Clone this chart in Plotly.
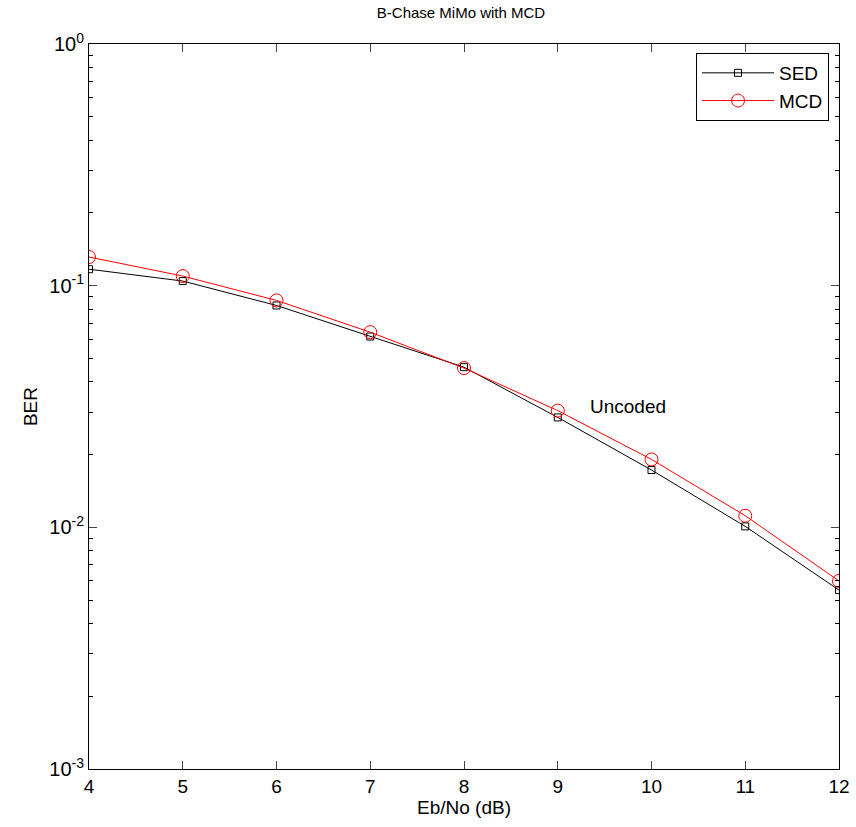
import plotly.graph_objects as go

ebno = [4, 5, 6, 7, 8, 9, 10, 11, 12]
ber_sed = [0.117, 0.1045, 0.0828, 0.0616, 0.046, 0.0285, 0.01726, 0.01009, 0.0055]
ber_mcd = [0.1314, 0.1096, 0.0869, 0.0642, 0.0456, 0.0304, 0.0191, 0.01117, 0.0060]
y_tickvals = [1, 0.1, 0.01, 0.001]
y_ticktext = ["10<sup>0</sup>", "10<sup>-1</sup>", "10<sup>-2</sup>", "10<sup>-3</sup>"]
x_ticks = [4, 5, 6, 7, 8, 9, 10, 11, 12]

font_family = "Liberation Sans, Arial, sans-serif"

fig = go.Figure()
fig.add_trace(go.Scatter(
    x=ebno, y=ber_sed, name="SED", mode="lines+markers",
    line=dict(color="black", width=1),
    marker=dict(symbol="square-open", size=7, color="black", line=dict(width=1)),
))
fig.add_trace(go.Scatter(
    x=ebno, y=ber_mcd, name="MCD", mode="lines+markers",
    line=dict(color="red", width=1),
    marker=dict(symbol="circle-open", size=13, color="red", line=dict(width=1)),
))

fig.add_annotation(x=9.32, y=-1.502, xref="x", yref="y", text="Uncoded",
                   showarrow=False, xanchor="left", yanchor="middle",
                   font=dict(size=19, color="black", family=font_family))

fig.update_layout(
    width=856, height=827,
    margin=dict(l=89, r=17, t=44, b=58, autoexpand=False),
    paper_bgcolor="white", plot_bgcolor="white",
    font=dict(family=font_family, size=19, color="black"),
    title=dict(text="B-Chase MiMo with MCD", x=0.5386, xanchor="center",
               y=0.984, yanchor="middle", font=dict(size=15)),
    showlegend=True,
    legend=dict(x=0.9867, y=0.9876, xanchor="right", yanchor="top",
                bgcolor="white", bordercolor="black", borderwidth=1,
                font=dict(size=19), itemwidth=72),
    xaxis=dict(
        range=[4, 12], tickvals=x_ticks, ticks="inside", ticklen=8,
        showline=True, linecolor="black", linewidth=1, mirror="ticks",
        showgrid=False, zeroline=False, automargin=False,
        title=dict(text="Eb/No (dB)", font=dict(size=19), standoff=1),
        tickfont=dict(size=19),
    ),
    yaxis=dict(
        type="log", range=[-3, 0], tickvals=y_tickvals, ticktext=y_ticktext,
        ticks="inside", ticklen=8,
        showline=True, linecolor="black", linewidth=1, mirror="ticks",
        showgrid=False, zeroline=False, automargin=False,
        minor=dict(ticks="inside", ticklen=4, tickcolor="black", dtick="D1",
                   showgrid=False),
        title=dict(text="BER", font=dict(size=19), standoff=6),
        tickfont=dict(size=20),
    ),
)

fig.write_html(
    "out.html",
    config={"displayModeBar": False},
    post_script="document.body.style.margin='0px';document.body.style.overflow='hidden';",
)
